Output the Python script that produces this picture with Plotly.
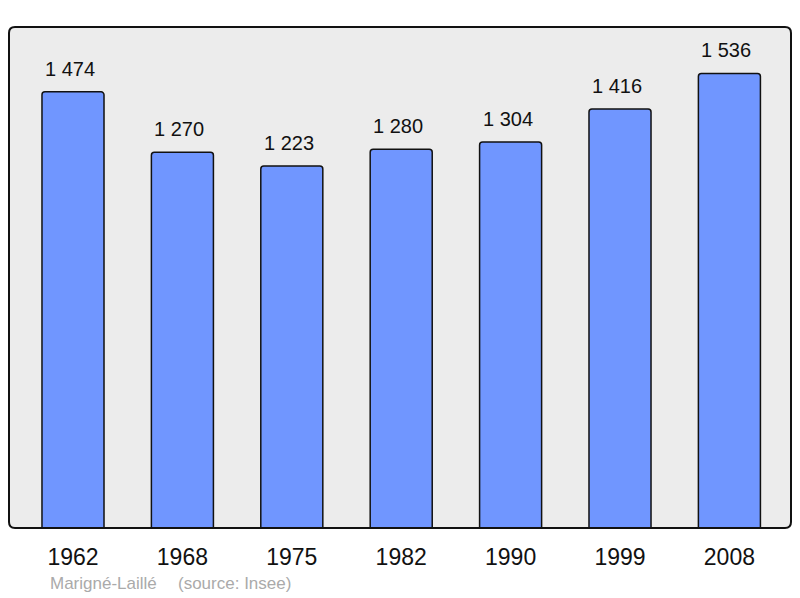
import plotly.graph_objects as go

years = ["1962", "1968", "1975", "1982", "1990", "1999", "2008"]
population = [1474, 1270, 1223, 1280, 1304, 1416, 1536]
value_labels = ["1 474", "1 270", "1 223", "1 280", "1 304", "1 416", "1 536"]
place = "Marigné-Laillé"
source = "(source: Insee)"

xpos = list(range(len(years)))

fig = go.Figure()
fig.add_trace(go.Bar(
    x=xpos, y=population, width=0.567,
    marker=dict(color="#7096ff", line=dict(color="#111111", width=1.5), cornerradius=3),
    hoverinfo="skip",
))

for i, (v, lab) in enumerate(zip(population, value_labels)):
    fig.add_annotation(x=i, y=v, text=lab, showarrow=False, yanchor="bottom",
                       yshift=10, xshift=-3, font=dict(size=20, color="#111111"))

for txt, px in [(place, 49), (source, 177)]:
    fig.add_annotation(xref="paper", yref="paper", x=(px - 9) / 782, y=-(583 - 528) / 501,
                       xanchor="left", yanchor="middle", showarrow=False, text=txt,
                       xshift=-1, font=dict(size=17, color="#aaaaaa"))

# rounded frame (paper coords; radius ~6 px)
rx, ry = 6 / 782, 6 / 501
frame_path = (f"M {rx},0 L {1 - rx},0 Q 1,0 1,{ry} L 1,{1 - ry} Q 1,1 {1 - rx},1 "
              f"L {rx},1 Q 0,1 0,{1 - ry} L 0,{ry} Q 0,0 {rx},0 Z")

fig.update_layout(
    width=800, height=598,
    margin=dict(l=9, r=9, t=27, b=70),
    paper_bgcolor="white", plot_bgcolor="rgba(0,0,0,0)",
    font=dict(family="Liberation Sans, Arial, sans-serif", color="#111111"),
    showlegend=False,
    shapes=[
        dict(type="path", xref="paper", yref="paper", path=frame_path,
             line=dict(width=0), fillcolor="#ececec", layer="below"),
        dict(type="path", xref="paper", yref="paper", path=frame_path,
             line=dict(color="#111111", width=2), fillcolor="rgba(0,0,0,0)", layer="above"),
    ],
)
fig.update_xaxes(range=[-0.585, 6.563], tickvals=xpos, ticktext=years,
                 tickfont=dict(size=23, color="#111111"), showgrid=False, zeroline=False,
                 ticks="outside", ticklen=8, tickcolor="rgba(0,0,0,0)", fixedrange=True)
fig.update_yaxes(range=[0, 1693], showticklabels=False, showgrid=False, zeroline=False,
                 fixedrange=True)

fig.write_html("out.html", config={"displayModeBar": False},
               post_script="document.body.style.margin='0';document.body.style.overflow='hidden';")
